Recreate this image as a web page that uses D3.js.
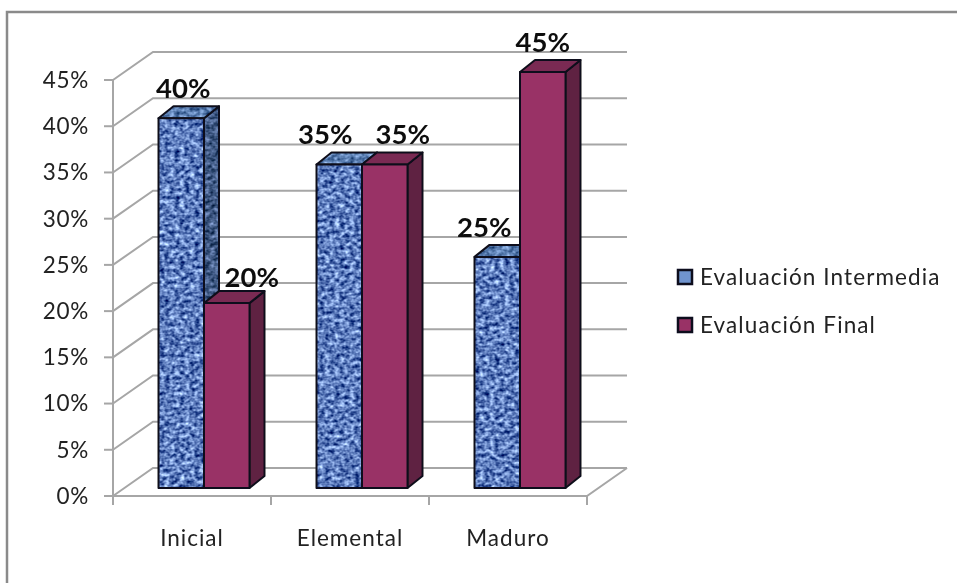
<!DOCTYPE html>
<html>
<head>
<meta charset="utf-8">
<script src="https://cdn.jsdelivr.net/npm/d3@7"></script>
<style>
    html, body { margin: 0; padding: 0; background: #fff; overflow: hidden; }
    svg { display: block; }
    text { font-family: Lato, "Open Sans", sans-serif; fill: #222; }
</style>
</head>
<body>
<div id="chart"></div>
<script>
const categories = ['Inicial', 'Elemental', 'Maduro'];
const seriesNames = ['Evaluación Intermedia', 'Evaluación Final'];
const intermedia = [40, 35, 25];
const final = [20, 35, 45];
const yTicks = [0, 5, 10, 15, 20, 25, 30, 35, 40, 45];

const width = 957;
const height = 583;
const depthX = 40;   // floor depth of the 3d box
const depthY = 28;
const barDepthX = 15;
const barDepthY = 12;

const svg = d3.select('#chart').append('svg')
    .attr('width', width)
    .attr('height', height);

const defs = svg.append('defs');

// burlap look of the blue series, one filter per face brightness
function burlap(id, m) {
    const filter = defs.append('filter')
        .attr('id', id)
        .attr('color-interpolation-filters', 'sRGB');
    filter.append('feTurbulence')
        .attr('type', 'fractalNoise')
        .attr('baseFrequency', '0.2 0.26')
        .attr('numOctaves', 2)
        .attr('seed', 4);
    filter.append('feColorMatrix')
        .attr('type', 'matrix')
        .attr('values', `${m[0]} 0 0 0 ${m[1]}  ${m[0]} 0 0 0 ${m[2]}  ${m[3]} 0 0 0 ${m[4]}  0 0 0 0 1`);
    filter.append('feComposite')
        .attr('in2', 'SourceAlpha')
        .attr('operator', 'in');
}
burlap('burlap', [1.3, -0.28, -0.16, 1.1, 0.19]);
burlap('burlapTop', [0.8, -0.04, 0.1, 0.8, 0.3]);
burlap('burlapSide', [0.8, -0.15, -0.05, 0.9, 0.07]);

// the source picture is a soft upscale
defs.append('filter')
    .attr('id', 'soft')
    .attr('filterUnits', 'userSpaceOnUse')
    .attr('x', 0).attr('y', 0).attr('width', width).attr('height', height)
    .append('feGaussianBlur')
    .attr('stdDeviation', 0.4);

const root = svg.append('g').attr('filter', 'url(#soft)');

const y = d3.scaleLinear().domain([0, 45]).range([496, 80]);
const x = d3.scaleBand().domain(categories).range([113, 587]);
const inner = d3.scaleBand().domain(seriesNames).range([0, 91]);
const barShift = 45; // distance from tick to first bar
const baseLift = 8;  // bars stand a little behind the front edge

// frame, only left and top fit in the picture
root.append('path')
    .attr('d', `M7,${height}V12H${width}`)
    .attr('fill', 'none')
    .attr('stroke', '#8a8a8a')
    .attr('stroke-width', 2.5);

const grid = '#a6a6a6';

// back wall gridlines and the slanted bits on the side wall
const wall = root.append('g').attr('stroke', grid).attr('stroke-width', 2).attr('fill', 'none');
wall.selectAll('path.grid')
    .data(yTicks)
    .enter()
    .append('path')
    .attr('class', 'grid')
    .attr('d', d => `M113,${y(d)}L${113 + depthX},${y(d) - depthY}H${587 + depthX}`);

// floor front edge, right side, y axis
wall.append('path').attr('d', `M113,${y(45)}V${y(0)}H587L${587 + depthX},${y(0) - depthY}`);

// tick marks
wall.selectAll('line.ytick')
    .data(yTicks)
    .enter()
    .append('line')
    .attr('class', 'ytick')
    .attr('x1', 104).attr('x2', 113)
    .attr('y1', d => y(d)).attr('y2', d => y(d));
wall.selectAll('line.xtick')
    .data(d3.range(categories.length + 1))
    .enter()
    .append('line')
    .attr('class', 'xtick')
    .attr('x1', i => 113 + i * x.bandwidth())
    .attr('x2', i => 113 + i * x.bandwidth())
    .attr('y1', y(0)).attr('y2', y(0) + 9);

root.selectAll('text.ylabel')
    .data(yTicks)
    .enter()
    .append('text')
    .attr('class', 'ylabel')
    .attr('x', 89)
    .attr('y', d => y(d))
    .attr('dy', '.35em')
    .attr('text-anchor', 'end')
    .attr('font-size', 22.5)
    .attr('letter-spacing', 0.7)
    .text(d => d + '%');

root.selectAll('text.xlabel')
    .data(categories)
    .enter()
    .append('text')
    .attr('class', 'xlabel')
    .attr('x', d => x(d) + x.bandwidth() / 2)
    .attr('y', 546)
    .attr('text-anchor', 'middle')
    .attr('font-size', 22.5)
    .attr('letter-spacing', 1)
    .text(d => d);

const rows = [];
categories.forEach((c, i) => {
    rows.push({ cat: c, name: seriesNames[0], value: intermedia[i] });
    rows.push({ cat: c, name: seriesNames[1], value: final[i] });
});

const colors = {
    'Evaluación Intermedia': { front: 'url(#burlap)', top: 'url(#burlapTop)', side: 'url(#burlapSide)' },
    'Evaluación Final': { front: '#993366', top: '#7a2952', side: '#5f2143' }
};
const isBlue = name => name === seriesNames[0];

// the labels were moved by hand in the original
const labelNudge = {
    'Inicial': [2, 25],
    'Elemental': [-14, 18],
    'Maduro': [-13, 0]
};

const bars = root.selectAll('g.bar')
    .data(rows)
    .enter()
    .append('g')
    .attr('class', 'bar');

function barX(d) {
    return x(d.cat) + barShift + inner(d.name) + 0.5;
}

const barW = inner.bandwidth();

// draws one face: fill (flat or filter), then a dark outline on top
function face(pathFn, key) {
    const fillPaths = bars.append('path').attr('d', pathFn);
    fillPaths.filter(d => isBlue(d.name)).attr('fill', '#000').attr('filter', d => colors[d.name][key]);
    fillPaths.filter(d => !isBlue(d.name)).attr('fill', d => colors[d.name][key]);
    bars.append('path')
        .attr('d', pathFn)
        .attr('fill', 'none')
        .attr('stroke', '#10101a')
        .attr('stroke-width', 2)
        .attr('stroke-linejoin', 'round');
}

face(d => {
    const l = barX(d) + barW, t = y(d.value) - baseLift, b = y(0) - baseLift;
    return `M${l},${t}l${barDepthX},${-barDepthY}V${b - barDepthY}l${-barDepthX},${barDepthY}Z`;
}, 'side');
face(d => {
    const l = barX(d), t = y(d.value) - baseLift;
    return `M${l},${t}l${barDepthX},${-barDepthY}h${barW}l${-barDepthX},${barDepthY}Z`;
}, 'top');
face(d => {
    const l = barX(d), t = y(d.value) - baseLift, b = y(0) - baseLift;
    return `M${l},${t}h${barW}V${b}h${-barW}Z`;
}, 'front');

// value labels
bars.append('text')
    .attr('x', d => barX(d) + barW / 2 + labelNudge[d.cat][isBlue(d.name) ? 0 : 1])
    .attr('y', d => y(d.value) - baseLift - (d.cat === 'Inicial' && !isBlue(d.name) ? 16 : 20))
    .attr('text-anchor', 'middle')
    .attr('font-size', 27.5)
    .attr('font-weight', 700)
    .style('fill', '#111')
    .text(d => d.value + '%');

// legend
const legend = root.selectAll('g.legend')
    .data(seriesNames)
    .enter()
    .append('g')
    .attr('class', 'legend')
    .attr('transform', (d, i) => `translate(678, ${277 + i * 48})`);
legend.filter(d => isBlue(d)).append('rect')
    .attr('x', 0).attr('y', -7)
    .attr('width', 14).attr('height', 14)
    .attr('fill', '#6f94cf');
legend.filter(d => !isBlue(d)).append('rect')
    .attr('x', 0).attr('y', -7)
    .attr('width', 14).attr('height', 14)
    .attr('fill', d => colors[d].front);
legend.append('rect')
    .attr('x', 0).attr('y', -7)
    .attr('width', 14).attr('height', 14)
    .attr('fill', 'none')
    .attr('stroke', '#10101a')
    .attr('stroke-width', 2.5);
legend.append('text')
    .attr('x', 22)
    .attr('dy', '.35em')
    .attr('font-size', 22.5)
    .attr('letter-spacing', 1.1)
    .text(d => d);
</script>
</body>
</html>
